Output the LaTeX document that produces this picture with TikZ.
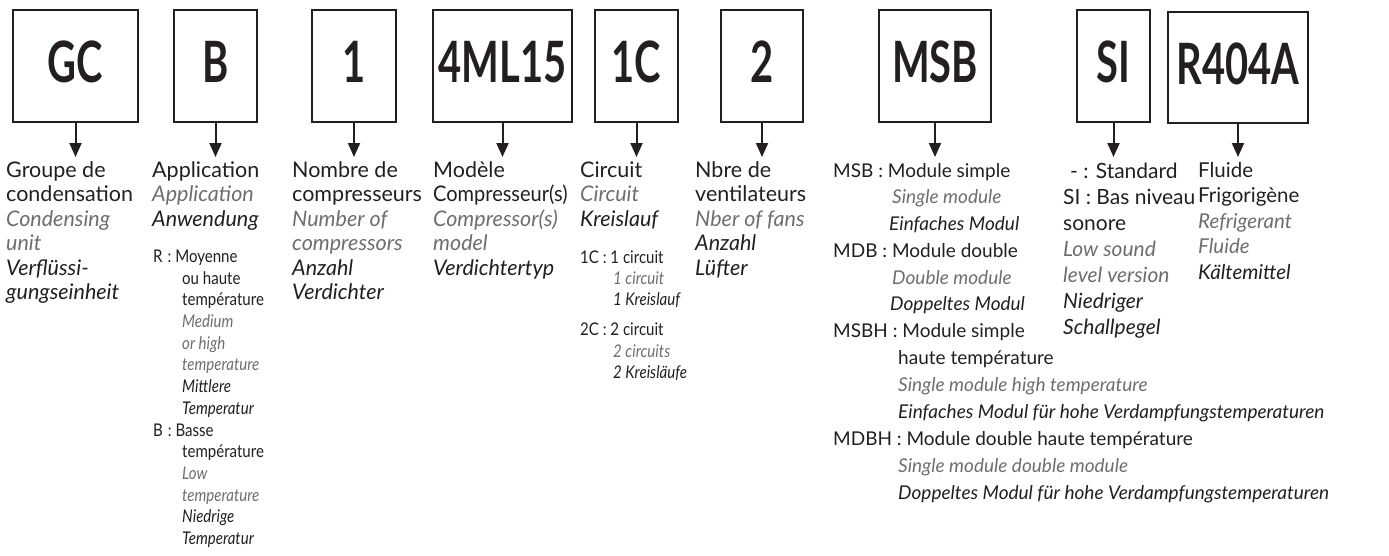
\documentclass[tikz,border=0pt]{standalone}
\usepackage{fontspec}
\setmainfont{Lato}
\newfontfamily\boxfont[FakeStretch=0.7]{Lato}
\newfontfamily\condfont[FakeStretch=0.86]{Lato}
\newfontfamily\narrowfont[FakeStretch=0.93]{Lato}
\usetikzlibrary{arrows.meta}
\definecolor{ink}{HTML}{231F20}
\definecolor{gtxt}{HTML}{6D6E71}
\begin{document}
\begin{tikzpicture}[x=1pt,y=-1pt,
  codebox/.style={draw=ink, line width=2.3pt, inner sep=0pt, minimum height=112pt, text depth=8pt,
    font=\boxfont\bfseries\fontsize{57}{57}\selectfont, text=ink},
  conn/.style={draw=ink, line width=2pt, -{Triangle[width=12pt,length=14pt]}},
  ln/.style={anchor=base west, inner sep=0pt, text=ink},
  fr/.style={ln, font=\fontsize{21.5}{24}\selectfont},
  en/.style={ln, text=gtxt, font=\itshape\fontsize{21.5}{24}\selectfont},
  de/.style={ln, font=\itshape\fontsize{21.5}{24}\selectfont},
  nfr/.style={ln, font=\narrowfont\fontsize{21.5}{24}\selectfont},
  sfr/.style={ln, font=\condfont\fontsize{17.5}{20}\selectfont},
  sen/.style={ln, text=gtxt, font=\condfont\itshape\fontsize{17.5}{20}\selectfont},
  sde/.style={ln, font=\condfont\itshape\fontsize{17.5}{20}\selectfont},
  mfr/.style={ln, font=\fontsize{19}{20}\selectfont},
  men/.style={ln, text=gtxt, font=\itshape\fontsize{19}{20}\selectfont},
  mde/.style={ln, font=\itshape\fontsize{19}{20}\selectfont},
  rfr/.style={ln, font=\fontsize{21}{24}\selectfont},
  ren/.style={ln, text=gtxt, font=\itshape\fontsize{21}{24}\selectfont},
  rde/.style={ln, font=\itshape\fontsize{21}{24}\selectfont},
  qfr/.style={ln, font=\fontsize{20.5}{24}\selectfont},
  qen/.style={ln, text=gtxt, font=\itshape\fontsize{20.5}{24}\selectfont},
  qde/.style={ln, font=\itshape\fontsize{20.5}{24}\selectfont}
]
\useasboundingbox (0,0) rectangle (1389,555);

% code boxes
\node[codebox, minimum width=125pt] (bGC) at (75.5,66) {GC};
\node[codebox, minimum width=83pt] (bB) at (215.5,66) {B};
\node[codebox, minimum width=84pt] (b1) at (354,66) {1};
\node[codebox, minimum width=139pt] (b4) at (502.5,66) {4ML15};
\node[codebox, minimum width=83pt] (b1C) at (636.5,66) {1C};
\node[codebox, minimum width=82pt] (b2) at (762,66) {2};
\node[codebox, minimum width=112pt] (bMSB) at (935,66) {MSB};
\node[codebox, minimum width=73pt] (bSI) at (1113.5,66) {SI};
\node[codebox, minimum width=140pt, minimum height=111pt] (bR) at (1238,67.5) {R404A};

% arrow tips
\coordinate (tGC) at (75.5,157);
\coordinate (tB) at (215.5,157);
\coordinate (t1) at (354,157);
\coordinate (t4) at (502.5,157);
\coordinate (t1C) at (636.5,157);
\coordinate (t2) at (762,157);
\coordinate (tMSB) at (935,157);
\coordinate (tSI) at (1113.5,157);
\coordinate (tR) at (1238,157);
\foreach \n in {GC,B,1,4,1C,2,MSB,SI,R}
  \draw[conn] (b\n.south) -- (t\n);

% column GC
\node[fr] (gc1) at (6,177) {Groupe de};
\node[fr] (gc2) at (6,201.5) {condensation};
\node[en] (gc3) at (6,226) {Condensing};
\node[en] (gc4) at (6,250.5) {unit};
\node[de] (gc5) at (6,275) {Verflüssi-};
\node[de] (gc6) at (6,299.5) {gungseinheit};

% column B
\node[fr] (ap1) at (152,177) {Application};
\node[en] (ap2) at (152,201.5) {Application};
\node[de] (ap3) at (152,226) {Anwendung};
\node[sfr] (r1) at (153,262) {R\hspace{5pt}: Moyenne};
\node[sfr] (r2) at (182,284) {ou haute};
\node[sfr] (r3) at (182,305) {température};
\node[sen] (r4) at (182,327) {Medium};
\node[sen] (r5) at (182,349) {or high};
\node[sen] (r6) at (182,370) {temperature};
\node[sde] (r7) at (182,392) {Mittlere};
\node[sde] (r8) at (182,414) {Temperatur};
\node[sfr] (s1) at (153,436) {B\hspace{5pt}: Basse};
\node[sfr] (s2) at (182,457) {température};
\node[sen] (s3) at (182,479) {Low};
\node[sen] (s4) at (182,501) {temperature};
\node[sde] (s5) at (182,522) {Niedrige};
\node[sde] (s6) at (182,544) {Temperatur};

% column 1
\node[fr] (nc1) at (292,177) {Nombre de};
\node[fr] (nc2) at (292,201.5) {compresseurs};
\node[en] (nc3) at (292,226) {Number of};
\node[en] (nc4) at (292,250.5) {compressors};
\node[de] (nc5) at (292,275) {Anzahl};
\node[de] (nc6) at (292,299.5) {Verdichter};

% column 4ML15
\node[fr] (mc1) at (433,177) {Modèle};
\node[nfr] (mc2) at (433,201.5) {Compresseur(s)};
\node[en] (mc3) at (433,226) {Compressor(s)};
\node[en] (mc4) at (433,250.5) {model};
\node[de] (mc5) at (433,275) {Verdichtertyp};

% column 1C
\node[fr] (ci1) at (580,177) {Circuit};
\node[en] (ci2) at (580,201.5) {Circuit};
\node[de] (ci3) at (580,226) {Kreislauf};
\node[sfr] (ci4) at (580,263) {1C : 1 circuit};
\node[sen] (ci5) at (613,284) {1 circuit};
\node[sde] (ci6) at (613,305) {1 Kreislauf};
\node[sfr] (ci7) at (580,335) {2C : 2 circuit};
\node[sen] (ci8) at (613,357) {2 circuits};
\node[sde] (ci9) at (613,378) {2 Kreisläufe};

% column 2
\node[fr] (nv1) at (695,177) {Nbre de};
\node[fr] (nv2) at (695,201.5) {ventilateurs};
\node[en] (nv3) at (695,226) {Nber of fans};
\node[de] (nv4) at (695,250.5) {Anzahl};
\node[de] (nv5) at (695,275) {Lüfter};

% column MSB
\node[mfr] (mo1) at (833,177) {MSB : Module simple};
\node[men] (mo2) at (892,203.5) {Single module};
\node[mde] (mo3) at (889,230) {Einfaches Modul};
\node[mfr] (mo4) at (833,257) {MDB : Module double};
\node[men] (mo5) at (892,284) {Double module};
\node[mde] (mo6) at (890,310) {Doppeltes Modul};
\node[mfr] (mo7) at (833,337) {MSBH : Module simple};
\node[mfr] (mo8) at (898,364) {haute température};
\node[men] (mo9) at (898,391) {Single module high temperature};
\node[mde] (mo10) at (898,418) {Einfaches Modul für hohe Verdampfungstemperaturen};
\node[mfr] (mo11) at (833,445) {MDBH : Module double haute température};
\node[men] (mo12) at (898,472) {Single module double module};
\node[mde] (mo13) at (898,499) {Doppeltes Modul für hohe Verdampfungstemperaturen};

% column SI
\node[rfr] (si1) at (1070,178) {- : Standard};
\node[rfr] (si2) at (1063,204) {SI : Bas niveau};
\node[rfr] (si3) at (1063,230) {sonore};
\node[ren] (si4) at (1063,256) {Low sound};
\node[ren] (si5) at (1063,282) {level version};
\node[rde] (si6) at (1063,308) {Niedriger};
\node[rde] (si7) at (1063,334) {Schallpegel};

% column R404A
\node[qfr] (fl1) at (1198,177) {Fluide};
\node[qfr] (fl2) at (1198,202.5) {Frigorigène};
\node[qen] (fl3) at (1198,228) {Refrigerant};
\node[qen] (fl4) at (1198,253.5) {Fluide};
\node[qde] (fl5) at (1198,279) {Kältemittel};
\end{tikzpicture}
\end{document}
